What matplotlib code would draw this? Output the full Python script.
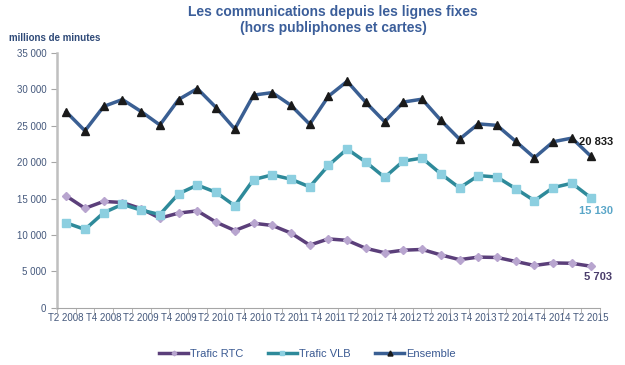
import numpy as np
import matplotlib.pyplot as plt
from matplotlib.ticker import FuncFormatter

plt.rcParams['font.family'] = ['Liberation Sans', 'DejaVu Sans']

# trimestres T2 2008 -> T2 2015
trimestres = []
for annee in range(2008, 2016):
    for t in (1, 2, 3, 4):
        if (annee == 2008 and t < 2) or (annee == 2015 and t > 2):
            continue
        trimestres.append("T%d %d" % (t, annee))

trafic_rtc = [15350, 13650, 14600, 14450, 13600, 12300, 13000, 13300, 11750, 10600,
              11600, 11300, 10250, 8600, 9450, 9250, 8150, 7550, 7900, 8000,
              7250, 6600, 6950, 6900, 6350, 5800, 6150, 6100, 5703]
trafic_vlb = [11650, 10750, 13050, 14200, 13400, 12800, 15650, 16850, 15850, 14000,
              17600, 18250, 17650, 16600, 19550, 21800, 20000, 17900, 20150, 20550,
              18400, 16450, 18150, 17950, 16350, 14700, 16500, 17100, 15130]
ensemble = [26900, 24300, 27650, 28600, 26950, 25100, 28600, 30100, 27500, 24550,
            29200, 29550, 27800, 25200, 29050, 31100, 28200, 25550, 28250, 28650,
            25750, 23150, 25250, 25050, 22850, 20600, 22800, 23300, 20833]

x = np.arange(len(trimestres))

fig = plt.figure(figsize=(6.25, 3.65), dpi=100)
ax = fig.add_axes([0.091, 0.157, 0.869, 0.698])

ax.plot(x, trafic_rtc, color='#5B3F7A', lw=2.5, marker='D', ms=4,
        mfc='#B8A5CF', mec='#B8A5CF', label='Trafic RTC')
ax.plot(x, trafic_vlb, color='#2E8A9A', lw=2.5, marker='s', ms=6,
        mfc='#8CCFE0', mec='#8CCFE0', label='Trafic VLB')
ax.plot(x, ensemble, color='#3A5F93', lw=2.5, marker='^', ms=6,
        mfc='#1A1A1A', mec='#1A1A1A', label='Ensemble')

# valeurs finales
fs = lambda v: "{:,}".format(v).replace(",", " ")
ax.annotate(fs(ensemble[-1]), (x[-1], ensemble[-1]), xytext=(4, 10),
            textcoords='offset points', ha='center', va='center', fontsize=8,
            fontweight='bold', color='#1A1A1A')
ax.annotate(fs(trafic_vlb[-1]), (x[-1], trafic_vlb[-1]), xytext=(4, -10),
            textcoords='offset points', ha='center', va='center', fontsize=8,
            fontweight='bold', color='#5AA6C8')
ax.annotate(fs(trafic_rtc[-1]), (x[-1], trafic_rtc[-1]), xytext=(5, -8),
            textcoords='offset points', ha='center', va='center', fontsize=8,
            fontweight='bold', color='#4A3D6B')

ax.set_xlim(-0.5, len(x) - 0.5)
ax.set_ylim(0, 35000)
ax.set_yticks(np.arange(0, 35001, 5000))
ax.yaxis.set_major_formatter(FuncFormatter(lambda v, p: fs(int(v))))
ax.set_xticks(x[::2])
ax.set_xticklabels(trimestres[::2])
ax.set_xticks(np.arange(-0.5, len(x), 1), minor=True)
ax.tick_params(axis='x', which='major', length=0, labelsize=7, colors='#44587C', pad=4)
ax.tick_params(axis='x', which='minor', length=4, color='#A6A6A6')
ax.tick_params(axis='y', length=4, labelsize=7, labelcolor='#44587C', color='#A6A6A6')

for s in ('top', 'right'):
    ax.spines[s].set_visible(False)
ax.spines['left'].set_color('#BFBFBF')
ax.spines['left'].set_linewidth(1.8)
ax.spines['bottom'].set_color('#A6A6A6')

fig.text(0.533, 0.985, "Les communications depuis les lignes fixes\n(hors publiphones et cartes)",
         ha='center', va='top', fontsize=10, fontweight='bold', color='#3B5E9A',
         linespacing=1.1)
fig.text(0.015, 0.896, "millions de minutes", ha='left', va='center', fontsize=7,
         fontweight='bold', color='#2F4A78')

fig.legend(loc='lower center', bbox_to_anchor=(0.492, -0.01), ncol=3, frameon=False,
           fontsize=8, handlelength=2.6, handletextpad=0.2, columnspacing=2.2,
           markerscale=0.6, labelcolor='#3B5A92')

fig.savefig('out.png', dpi=100)
